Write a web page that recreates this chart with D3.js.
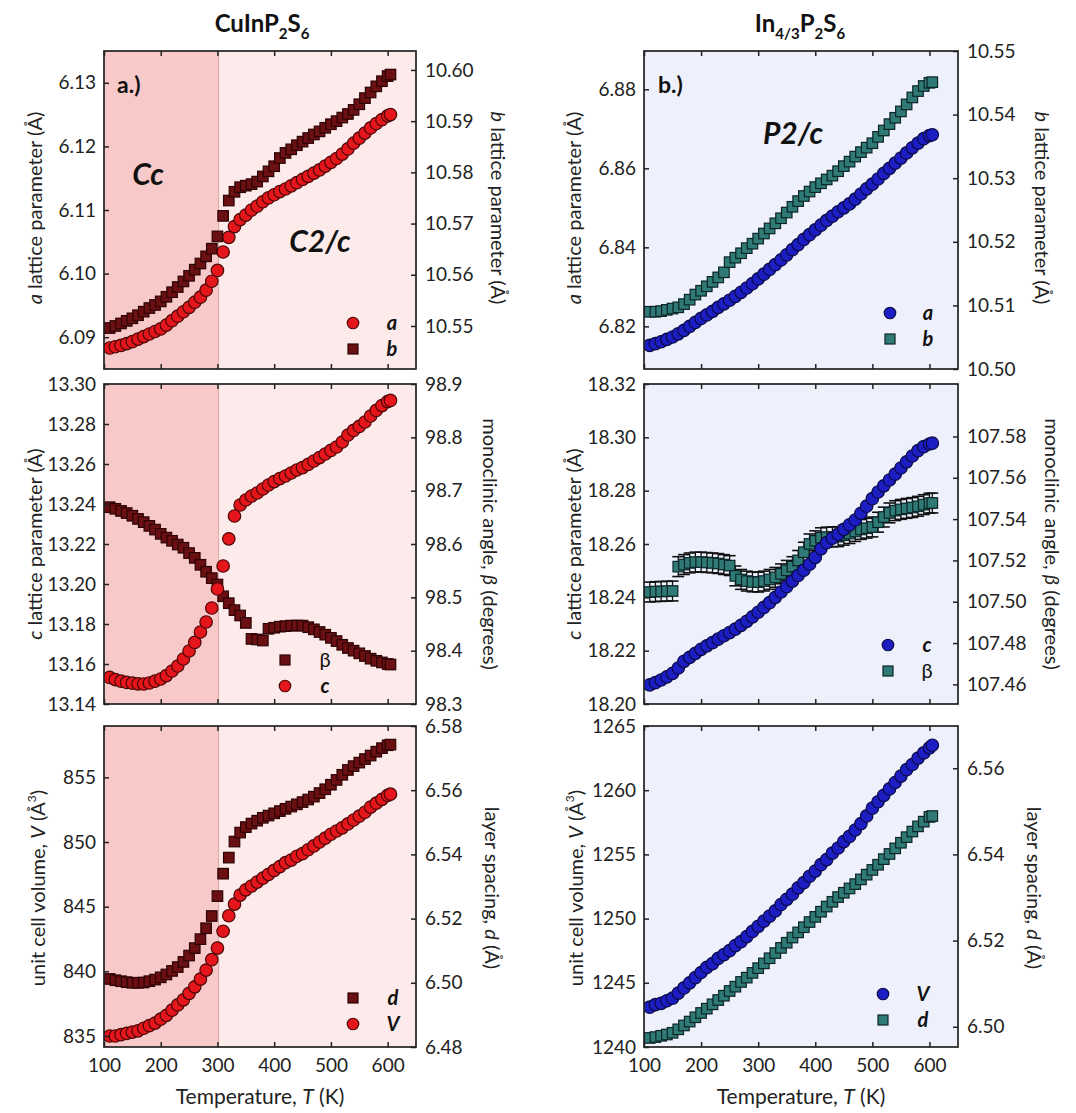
<!DOCTYPE html>
<html><head><meta charset="utf-8">
<script src="https://cdn.jsdelivr.net/npm/d3@7"></script>
<style>
body{margin:0;background:#fff;}
svg{display:block;font-family:Lato,"Open Sans",sans-serif;}
</style></head>
<body><svg id="chart" width="1076" height="1113"></svg>
<script>
// ---------------- DATA ----------------
const temps = [110,120,130,140,150,160,170,180,190,200,210,220,230,240,250,260,270,280,290,300,
  310,320,330,340,350,360,370,380,390,400,410,420,430,440,450,460,470,480,490,500,
  510,520,530,540,550,560,570,580,590,600,605];
const xTicks = [100,200,300,400,500,600];
const phaseT = 302;

// CuInP2S6
const cuA = [6.0883,6.0885,6.0887,6.0890,6.0893,6.0897,6.0901,6.0905,6.0909,6.0913,6.0919,6.0926,6.0933,6.0940,6.0947,6.0955,6.0963,6.0974,6.0988,6.1005,
  6.1034,6.1057,6.1074,6.1085,6.1092,6.1100,6.1106,6.1113,6.1119,6.1124,6.1129,6.1133,6.1138,6.1143,6.1148,6.1153,6.1158,6.1163,6.1169,6.1175,
  6.1181,6.1188,6.1196,6.1205,6.1213,6.1221,6.1229,6.1236,6.1242,6.1248,6.1250];
const cuB = [10.5496,10.5500,10.5505,10.5510,10.5515,10.5521,10.5528,10.5535,10.5541,10.5548,10.5557,10.5566,10.5576,10.5587,10.5598,10.5610,10.5622,10.5636,10.5651,10.5675,
  10.5715,10.5745,10.5762,10.5771,10.5774,10.5777,10.5782,10.5792,10.5802,10.5812,10.5828,10.5838,10.5845,10.5853,10.5860,10.5867,10.5874,10.5880,10.5887,10.5894,
  10.5900,10.5907,10.5914,10.5922,10.5933,10.5945,10.5956,10.5968,10.5978,10.5988,10.5991];
const cuC = [13.1533,13.1522,13.1514,13.1508,13.1504,13.1501,13.1500,13.1505,13.1514,13.1525,13.1542,13.1565,13.1590,13.1625,13.1665,13.1708,13.1760,13.1810,13.1880,13.1975,
  13.2090,13.2226,13.2340,13.2395,13.2420,13.2440,13.2455,13.2475,13.2495,13.2512,13.2527,13.2540,13.2555,13.2570,13.2582,13.2598,13.2615,13.2632,13.2650,13.2668,
  13.2685,13.2710,13.2745,13.2768,13.2788,13.2810,13.2840,13.2868,13.2892,13.2912,13.2918];
const cuBeta = [98.669,98.666,98.662,98.658,98.653,98.647,98.641,98.634,98.627,98.619,98.612,98.606,98.599,98.593,98.583,98.574,98.561,98.548,98.536,98.524,
  98.502,98.489,98.476,98.466,98.452,98.422,98.421,98.419,98.441,98.443,98.445,98.446,98.447,98.447,98.447,98.444,98.440,98.435,98.430,98.424,
  98.418,98.411,98.405,98.400,98.395,98.390,98.385,98.381,98.378,98.375,98.374];
const cuV = [835.0,835.0,835.1,835.2,835.3,835.4,835.6,835.8,836.0,836.3,836.6,837.0,837.4,837.8,838.3,838.8,839.4,840.1,840.9,841.8,
  843.1,844.3,845.2,845.9,846.3,846.6,846.9,847.2,847.5,847.8,848.1,848.4,848.6,848.9,849.1,849.4,849.7,850.0,850.3,850.6,
  850.85,851.1,851.4,851.7,852.0,852.3,852.7,853.0,853.3,853.6,853.7];
const cuD = [6.5012,6.5008,6.5005,6.5002,6.5000,6.5000,6.5001,6.5005,6.5010,6.5017,6.5026,6.5037,6.5049,6.5065,6.5085,6.5108,6.5136,6.5170,6.5208,6.5270,
  6.5340,6.5390,6.5440,6.5468,6.5485,6.5496,6.5505,6.5514,6.5521,6.5528,6.5535,6.5542,6.5549,6.5556,6.5563,6.5571,6.5580,6.5591,6.5603,6.5617,
  6.5632,6.5648,6.5663,6.5675,6.5686,6.5697,6.5708,6.5720,6.5731,6.5740,6.5742];

// In4/3P2S6
const inA = [6.8152,6.8156,6.8161,6.8167,6.8173,6.8181,6.8190,6.8200,6.8210,6.8220,6.8229,6.8238,6.8248,6.8257,6.8266,6.8276,6.8286,6.8297,6.8308,6.8320,
  6.8332,6.8344,6.8356,6.8368,6.8381,6.8394,6.8407,6.8420,6.8432,6.8444,6.8456,6.8468,6.8479,6.8490,6.8500,6.8510,6.8522,6.8535,6.8548,6.8560,
  6.8573,6.8587,6.8600,6.8613,6.8626,6.8639,6.8652,6.8664,6.8675,6.8683,6.8685];
const inB = [10.5090,10.5090,10.5091,10.5093,10.5095,10.5097,10.5102,10.5109,10.5117,10.5123,10.5130,10.5137,10.5144,10.5152,10.5168,10.5175,10.5182,10.5190,10.5197,10.5205,
  10.5213,10.5221,10.5229,10.5237,10.5246,10.5255,10.5264,10.5272,10.5279,10.5286,10.5292,10.5298,10.5304,10.5311,10.5319,10.5326,10.5334,10.5341,10.5348,10.5355,
  10.5365,10.5375,10.5385,10.5395,10.5405,10.5416,10.5427,10.5437,10.5445,10.5450,10.5451];
const inC = [18.2072,18.2080,18.2090,18.2102,18.2115,18.2135,18.2160,18.2175,18.2190,18.2205,18.2218,18.2230,18.2243,18.2256,18.2268,18.2281,18.2295,18.2310,18.2327,18.2344,
  18.2362,18.2380,18.2400,18.2420,18.2440,18.2461,18.2482,18.2502,18.2524,18.2550,18.2582,18.2605,18.2622,18.2637,18.2655,18.2672,18.2690,18.2715,18.2742,18.2770,
  18.2795,18.2818,18.2840,18.2862,18.2885,18.2908,18.2930,18.2950,18.2965,18.2975,18.2978];
const inBeta = [107.5047,107.5049,107.5050,107.5051,107.5052,107.5170,107.5180,107.5188,107.5192,107.5192,107.5190,107.5188,107.5185,107.5180,107.5175,107.5125,107.5108,107.5100,107.5096,107.5095,
  107.5100,107.5108,107.5118,107.5135,107.5152,107.5170,107.5200,107.5240,107.5280,107.5295,107.5310,107.5313,107.5314,107.5315,107.5322,107.5330,107.5340,107.5350,107.5356,107.5362,
  107.5385,107.5410,107.5430,107.5441,107.5447,107.5452,107.5456,107.5462,107.5470,107.5477,107.5478];
const inBetaErr = 0.0048;
const inV = [1243.1,1243.3,1243.4,1243.6,1243.8,1244.2,1244.6,1245.0,1245.4,1245.8,1246.2,1246.5,1246.9,1247.2,1247.5,1247.9,1248.2,1248.6,1249.0,1249.4,
  1249.8,1250.2,1250.6,1251.1,1251.5,1251.9,1252.4,1252.8,1253.3,1253.7,1254.2,1254.6,1255.1,1255.5,1256.0,1256.4,1256.9,1257.4,1258.0,1258.6,
  1259.1,1259.6,1260.1,1260.6,1261.1,1261.6,1262.0,1262.5,1262.9,1263.3,1263.5];
const inD = [6.4974,6.4976,6.4979,6.4982,6.4986,6.4994,6.5003,6.5012,6.5022,6.5032,6.5042,6.5052,6.5062,6.5072,6.5083,6.5093,6.5104,6.5114,6.5125,6.5136,
  6.5147,6.5159,6.5171,6.5183,6.5195,6.5207,6.5219,6.5231,6.5243,6.5255,6.5267,6.5279,6.5290,6.5301,6.5311,6.5321,6.5331,6.5342,6.5353,6.5364,
  6.5376,6.5389,6.5401,6.5414,6.5427,6.5440,6.5453,6.5465,6.5476,6.5487,6.5489];

// tick value lists
const tlLeftTicks = [6.09,6.10,6.11,6.12,6.13];
const tlRightTicks = [10.55,10.56,10.57,10.58,10.59,10.60];
const mlLeftTicks = [13.14,13.16,13.18,13.20,13.22,13.24,13.26,13.28,13.30];
const mlRightTicks = [98.3,98.4,98.5,98.6,98.7,98.8,98.9];
const blLeftTicks = [835,840,845,850,855];
const blRightTicks = [6.48,6.50,6.52,6.54,6.56,6.58];
const trLeftTicks = [6.82,6.84,6.86,6.88];
const trRightTicks = [10.50,10.51,10.52,10.53,10.54,10.55];
const mrLeftTicks = [18.20,18.22,18.24,18.26,18.28,18.30,18.32];
const mrRightTicks = [107.46,107.48,107.50,107.52,107.54,107.56,107.58];
const brLeftTicks = [1240,1245,1250,1255,1260,1265];
const brRightTicks = [6.50,6.52,6.54,6.56];

// ---------------- STYLE ----------------
const RED = {shape:"circle", fill:"#e5161b", stroke:"#4a0606"};
const DRED = {shape:"square", fill:"#6a0f12", stroke:"#2c0304"};
const BLUE = {shape:"circle", fill:"#1d1dc4", stroke:"#0a0a45"};
const TEAL = {shape:"square", fill:"#2f7a76", stroke:"#0b2424"};
const TICK_FS = 19, LAB_FS = 20;

const svg = d3.select("#chart");
const cols = {L:[104,416], R:[644,958]};
const rows = {T:[51,369], M:[384,704], B:[726,1047]};

function fmt(d){ return (v)=>v.toFixed(d); }

const panels = [
 {col:"L", row:"T", bg:"cu", yl:[6.085,6.135], yr:[10.5416,10.6037], lt:tlLeftTicks, rt:tlRightTicks, lf:fmt(2), rf:fmt(2),
  series:[{v:cuA, ax:"l", st:RED},{v:cuB, ax:"r", st:DRED}],
  legend:[{st:RED, t:"a", it:true},{st:DRED, t:"b", it:true}], lx:353, ly:323, ltx:392,
  lab:[{t:["a"," lattice parameter (Å)"]},{t:["b"," lattice parameter (Å)"]}], labY:208, lx1:35, lx2:498},
 {col:"L", row:"M", bg:"cu", yl:[13.14,13.30], yr:[98.3,98.9], lt:mlLeftTicks, rt:mlRightTicks, lf:fmt(2), rf:fmt(1),
  series:[{v:cuBeta, ax:"r", st:DRED},{v:cuC, ax:"l", st:RED}],
  legend:[{st:DRED, t:"β", it:false},{st:RED, t:"c", it:true}], lx:285, ly:660, ltx:325,
  lab:[{t:["c"," lattice parameter (Å)"]},{t:["monoclinic angle, ","β"," (degrees)"]}], labY:544, lx1:35, lx2:490},
 {col:"L", row:"B", bg:"cu", yl:[834.15,858.97], yr:[6.48,6.58], lt:blLeftTicks, rt:blRightTicks, lf:fmt(0), rf:fmt(2),
  series:[{v:cuD, ax:"r", st:DRED},{v:cuV, ax:"l", st:RED}],
  legend:[{st:DRED, t:"d", it:true},{st:RED, t:"V", it:true}], lx:353, ly:998, ltx:393,
  lab:[{t:["unit cell volume, ","V"," (Å","3",")"]},{t:["layer spacing, ","d"," (Å)"]}], labY:888, lx1:38, lx2:492},
 {col:"R", row:"T", bg:"in", yl:[6.8092,6.8897], yr:[10.50,10.55], lt:trLeftTicks, rt:trRightTicks, lf:fmt(2), rf:fmt(2),
  series:[{v:inB, ax:"r", st:TEAL},{v:inA, ax:"l", st:BLUE}],
  legend:[{st:BLUE, t:"a", it:true},{st:TEAL, t:"b", it:true}], lx:890, ly:313, ltx:928,
  lab:[{t:["a"," lattice parameter (Å)"]},{t:["b"," lattice parameter (Å)"]}], labY:208, lx1:574, lx2:1042},
 {col:"R", row:"M", bg:"in", yl:[18.20,18.32], yr:[107.4505,107.6054], lt:mrLeftTicks, rt:mrRightTicks, lf:fmt(2), rf:fmt(2),
  series:[{v:inBeta, ax:"r", st:TEAL, err:inBetaErr},{v:inC, ax:"l", st:BLUE}],
  legend:[{st:BLUE, t:"c", it:true},{st:TEAL, t:"β", it:false}], lx:888, ly:645, ltx:927,
  lab:[{t:["c"," lattice parameter (Å)"]},{t:["monoclinic angle, ","β"," (degrees)"]}], labY:544, lx1:574, lx2:1052},
 {col:"R", row:"B", bg:"in", yl:[1240,1265], yr:[6.4953,6.5698], lt:brLeftTicks, rt:brRightTicks, lf:fmt(0), rf:fmt(2),
  series:[{v:inD, ax:"r", st:TEAL},{v:inV, ax:"l", st:BLUE}],
  legend:[{st:BLUE, t:"V", it:true},{st:TEAL, t:"d", it:true}], lx:883, ly:994, ltx:923,
  lab:[{t:["unit cell volume, ","V"," (Å","3",")"]},{t:["layer spacing, ","d"," (Å)"]}], labY:888, lx1:576, lx2:1034}
];

const italicWords = new Set(["a","b","c","d","V","β"]);

function marker(g, st, x, y, size){
  if(st.shape==="circle"){
    g.append("circle").attr("cx",x).attr("cy",y).attr("r",size/2)
      .attr("fill",st.fill).attr("stroke",st.stroke).attr("stroke-width",1.2);
  } else {
    g.append("rect").attr("x",x-size/2).attr("y",y-size/2).attr("width",size).attr("height",size)
      .attr("fill",st.fill).attr("stroke",st.stroke).attr("stroke-width",1.2);
  }
}

panels.forEach((p,i)=>{
  const [x0,x1] = cols[p.col], [y0,y1] = rows[p.row];
  const x = d3.scaleLinear().domain([100,650]).range([x0,x1]);
  const yl = d3.scaleLinear().domain(p.yl).range([y1,y0]);
  const yr = d3.scaleLinear().domain(p.yr).range([y1,y0]);
  const g = svg.append("g");
  const cid = "clip"+i;
  svg.append("clipPath").attr("id",cid).append("rect").attr("x",x0).attr("y",y0).attr("width",x1-x0).attr("height",y1-y0);

  // background
  if(p.bg==="cu"){
    g.append("rect").attr("x",x0).attr("y",y0).attr("width",x1-x0).attr("height",y1-y0).attr("fill","#fdeaea");
    g.append("rect").attr("x",x0).attr("y",y0).attr("width",x(phaseT)-x0).attr("height",y1-y0).attr("fill","#f8c9c9");
    g.append("line").attr("x1",x(phaseT)).attr("x2",x(phaseT)).attr("y1",y0).attr("y2",y1)
      .attr("stroke","#dca8a8").attr("stroke-width",1);
  } else {
    g.append("rect").attr("x",x0).attr("y",y0).attr("width",x1-x0).attr("height",y1-y0).attr("fill","#eef0fb");
  }

  // data
  const dg = g.append("g").attr("clip-path",`url(#${cid})`);
  p.series.forEach(s=>{
    const ys = s.ax==="l" ? yl : yr;
    if(s.err){
      temps.forEach((t,k)=>{
        const xx = x(t), ya = ys(s.v[k]-s.err), yb = ys(s.v[k]+s.err);
        dg.append("line").attr("x1",xx).attr("x2",xx).attr("y1",ya).attr("y2",yb).attr("stroke","#111").attr("stroke-width",1.3);
        [ya,yb].forEach(yy=>dg.append("line").attr("x1",xx-6).attr("x2",xx+6).attr("y1",yy).attr("y2",yy).attr("stroke","#111").attr("stroke-width",1.6));
      });
    }
    temps.forEach((t,k)=>{
      marker(dg, s.st, x(t), ys(s.v[k]), s.st.shape==="circle"?12.5:10.5);
    });
  });

  // frame
  g.append("rect").attr("x",x0).attr("y",y0).attr("width",x1-x0).attr("height",y1-y0)
    .attr("fill","none").attr("stroke","#222").attr("stroke-width",1.7);

  // axes (inward ticks)
  const axStyle = sel=>{ sel.select(".domain").remove();
    sel.selectAll("line").attr("stroke","#222").attr("stroke-width",1.5);
    sel.selectAll("text").attr("font-family","Lato, 'Open Sans', sans-serif").attr("font-size",TICK_FS).attr("fill","#222"); };
  const isBottom = p.row==="B";
  g.append("g").attr("transform",`translate(0,${y1})`)
    .call(d3.axisBottom(x).tickValues(xTicks).tickSizeInner(-5).tickSizeOuter(0).tickPadding(12)
      .tickFormat(isBottom? d3.format("d") : ()=>""))
    .call(axStyle);
  g.append("g").attr("transform",`translate(0,${y0})`)
    .call(d3.axisTop(x).tickValues(xTicks).tickSizeInner(-5).tickSizeOuter(0).tickFormat(()=>""))
    .call(axStyle);
  g.append("g").attr("transform",`translate(${x0},0)`)
    .call(d3.axisLeft(yl).tickValues(p.lt).tickSizeInner(-5).tickSizeOuter(0).tickPadding(8).tickFormat(p.lf))
    .call(axStyle);
  g.append("g").attr("transform",`translate(${x1},0)`)
    .call(d3.axisRight(yr).tickValues(p.rt).tickSizeInner(-5).tickSizeOuter(0).tickPadding(9).tickFormat(p.rf))
    .call(axStyle);

  // legend
  p.legend.forEach((l,k)=>{
    const ly = p.ly + k*26;
    marker(g, l.st, p.lx, ly, l.st.shape==="circle"?11.5:10);
    g.append("text").attr("x",p.ltx).attr("y",ly+7).attr("text-anchor","middle")
      .attr("font-size",20).attr("font-style",l.it?"italic":"normal").attr("font-weight",l.it?"bold":"normal")
      .attr("fill","#111").text(l.t);
  });

  // axis titles
  const mkLabel = (parts, xx, rot)=>{
    const t = g.append("text").attr("transform",`translate(${xx},${p.labY}) rotate(${rot})`)
      .attr("text-anchor","middle").attr("font-size",LAB_FS).attr("fill","#222").attr("dy","0.35em");
    parts.t.forEach((s,k)=>{
      const ts = t.append("tspan").text(s);
      if(italicWords.has(s)) ts.attr("font-style","italic");
      if(s==="3"){ ts.attr("font-size",12).attr("dy",-9); }
      else if(k>0 && parts.t[k-1]==="3"){ ts.attr("dy",9); }
    });
  };
  mkLabel(p.lab[0], p.lx1, -90);
  mkLabel(p.lab[1], p.lx2, 90);

  if(isBottom){
    const tt = g.append("text").attr("x",(x0+x1)/2).attr("y",1104).attr("text-anchor","middle")
      .attr("font-size",21).attr("fill","#222");
    tt.append("tspan").text("Temperature, ");
    tt.append("tspan").attr("font-style","italic").text("T");
    tt.append("tspan").text(" (K)");
  }
});

// titles
function chemTitle(xc, parts){
  const t = svg.append("text").attr("x",xc).attr("y",32).attr("text-anchor","middle")
    .attr("font-size",24).attr("font-weight","bold").attr("fill","#111");
  let prevSub=false;
  parts.forEach(([s,sub])=>{
    const ts = t.append("tspan").text(s);
    if(sub) ts.attr("font-size",15);
    ts.attr("dy", sub && !prevSub ? 7 : (!sub && prevSub ? -7 : 0));
    prevSub = sub;
  });
}
chemTitle(262, [["CuInP",false],["2",true],["S",false],["6",true]]);
chemTitle(800, [["In",false],["4/3",true],["P",false],["2",true],["S",false],["6",true]]);

// panel annotations
const ann = [
  {x:117, y:93, t:"a.)", s:23, st:"normal"},
  {x:658, y:93, t:"b.)", s:23, st:"normal"},
  {x:148, y:185, t:"Cc", s:30, st:"italic", a:"middle"},
  {x:320, y:252, t:"C2/c", s:30, st:"italic", a:"middle"},
  {x:793, y:144, t:"P2/c", s:30, st:"italic", a:"middle"}
];
ann.forEach(a=>{
  svg.append("text").attr("x",a.x).attr("y",a.y).attr("text-anchor",a.a||"start")
    .attr("font-size",a.s).attr("font-weight","bold").attr("font-style",a.st).attr("fill","#111").text(a.t);
});
</script></body></html>
